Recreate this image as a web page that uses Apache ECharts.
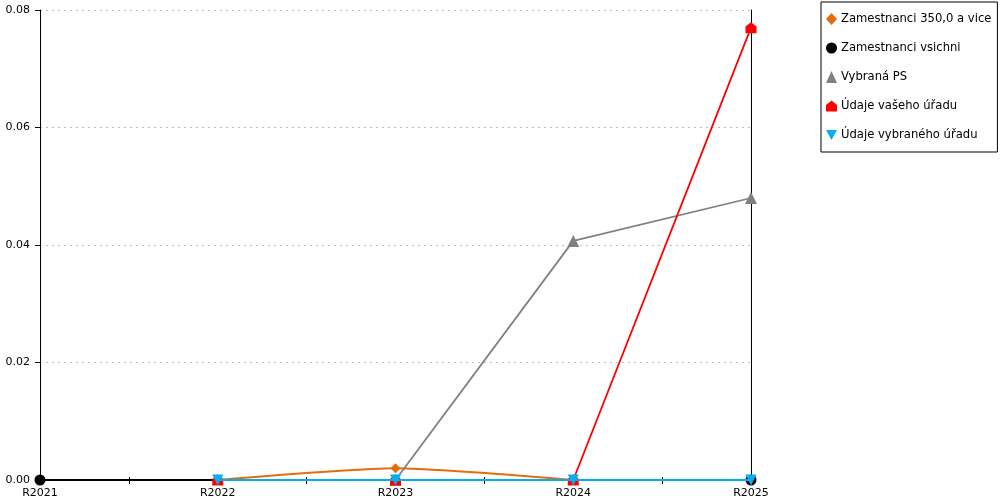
<!DOCTYPE html>
<html><head><meta charset="utf-8">
<script src="https://cdn.jsdelivr.net/npm/echarts@6/dist/echarts.min.js"></script>
<style>html,body{margin:0;padding:0;background:#fff}#c{width:1000px;height:500px}</style>
</head><body><div id="c"></div>
<script>
const categories = ['R2021','R2022','R2023','R2024','R2025'];
const zam350 = [null, 0, 0.002, 0, null];
const zamVsichni = [0, null, null, null, 0];
const vybranaPS = [null, null, 0, 0.0407, 0.048];
const vaseUrad = [null, 0, 0, 0, 0.077];
const vybranyUrad = [null, 0, 0, 0, 0];
const seriesNames = ['Zamestnanci 350,0 a vice','Zamestnanci vsichni','Vybraná PS','Údaje vašeho úřadu','Údaje vybraného úřadu'];
const yTicks = [0, 0.02, 0.04, 0.06, 0.08];

const FONT = 'DejaVu Sans';
function pts(arr){ return arr.map((v,i)=>[i, v]); }
const house = 'path://M0,4 L5,0 L10,4 L10,10 L0,10 Z';
const downTri = 'path://M0,0 L10,0 L5,9 Z';
const symbols = ['diamond','circle','triangle',house,downTri];
const colors = ['#E46C0A','#000000','#808080','#FF0000','#00B0F0'];

const chart = echarts.init(document.getElementById('c'), null, {renderer:'canvas'});
const xBase = {
  type:'value', min:0, max:categories.length-1, interval:0.5,
  axisLine:{show:true, lineStyle:{color:'#000', width:1}},
  splitLine:{show:false}
};
chart.setOption({
  animation:false,
  textStyle:{fontFamily:FONT},
  grid:{left:40, right:249, top:10, bottom:20},
  legend:{
    orient:'vertical', left:821, top:2,
    padding:[11,6,11,5], itemGap:17,
    borderColor:'#000', borderWidth:1,
    itemWidth:11, itemHeight:12,
    textStyle:{fontFamily:FONT, fontSize:11.6, color:'#000', padding:[0,0,0,-1]},
    data:seriesNames.map((n,i)=>({name:n, icon:symbols[i]}))
  },
  xAxis:[
    Object.assign({}, xBase, {
      axisTick:{show:true, inside:false, length:4, lineStyle:{color:'#000'}},
      axisLabel:{fontFamily:FONT, fontSize:11, color:'#000', margin:8,
        formatter:v=> Number.isInteger(v) ? categories[v] : ''}
    }),
    Object.assign({}, xBase, {
      position:'bottom',
      axisTick:{show:true, inside:true, length:3, lineStyle:{color:'#000'}},
      axisLabel:{show:false}
    })
  ],
  yAxis:[
    {type:'value', min:yTicks[0], max:yTicks[yTicks.length-1], interval:0.02,
     axisLine:{show:true, lineStyle:{color:'#000'}},
     axisTick:{show:true, length:5, lineStyle:{color:'#000'}},
     axisLabel:{fontFamily:FONT, fontSize:11, color:'#000', margin:10, formatter:v=>v.toFixed(2)},
     splitLine:{show:true, lineStyle:{color:'#bbb', type:[2,4], width:1}}},
    {type:'value', min:0, max:0.08, position:'right',
     axisLine:{show:true, onZero:false, lineStyle:{color:'#000'}},
     axisTick:{show:false}, axisLabel:{show:false}, splitLine:{show:false}}
  ],
  series:[
    {name:seriesNames[0], type:'line', data:pts(zam350), smooth:0.2, connectNulls:false,
     symbol:symbols[0], symbolSize:10, itemStyle:{color:colors[0]}, lineStyle:{color:colors[0], width:1.8}, z:2},
    {name:seriesNames[1], type:'line', data:pts(zamVsichni), connectNulls:true,
     symbol:symbols[1], symbolSize:11, itemStyle:{color:colors[1]}, lineStyle:{color:colors[1], width:1.8}, z:3},
    {name:seriesNames[2], type:'line', data:pts(vybranaPS),
     symbol:symbols[2], symbolSize:12, itemStyle:{color:colors[2]}, lineStyle:{color:colors[2], width:1.8}, z:4},
    {name:seriesNames[3], type:'line', data:pts(vaseUrad),
     symbol:symbols[3], symbolSize:11, itemStyle:{color:colors[3]}, lineStyle:{color:colors[3], width:1.8}, z:5},
    {name:seriesNames[4], type:'line', data:pts(vybranyUrad),
     symbol:symbols[4], symbolSize:11, itemStyle:{color:colors[4]}, lineStyle:{color:colors[4], width:2}, z:6}
  ]
});
</script></body></html>
